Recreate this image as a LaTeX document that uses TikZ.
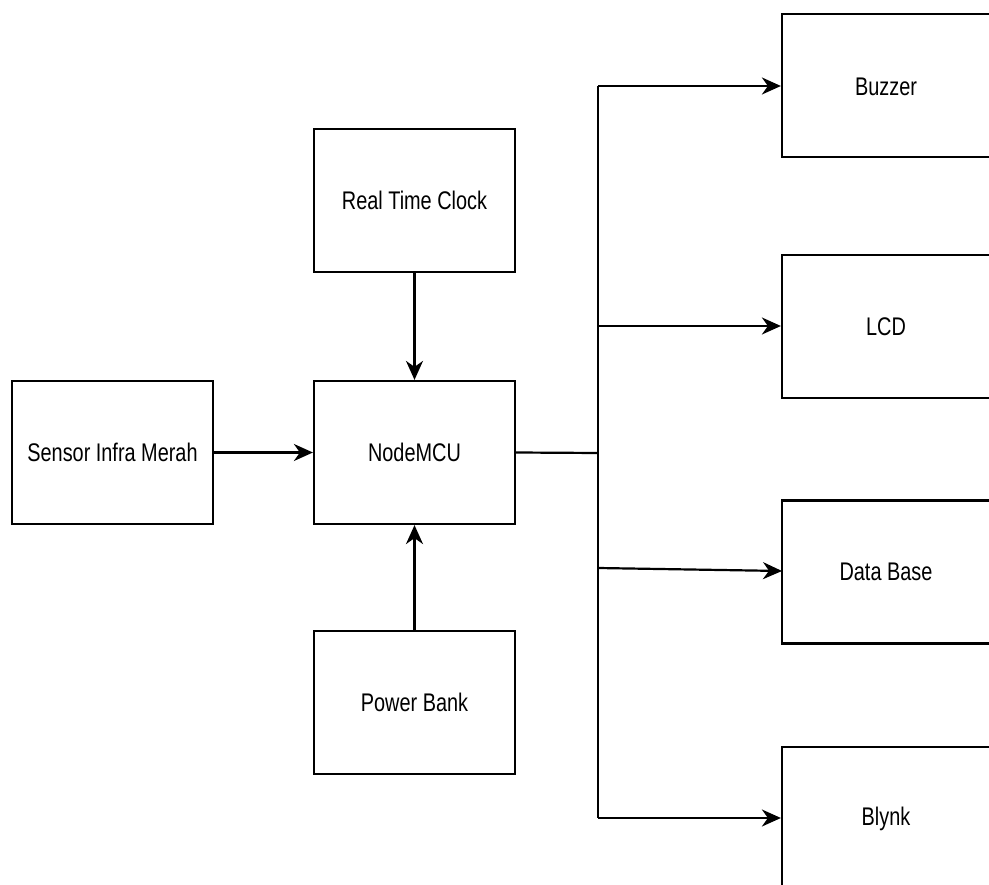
\documentclass[tikz,border=0pt]{standalone}
\usepackage{fontspec}
\setmainfont[FakeStretch=0.78]{Liberation Sans}
\usetikzlibrary{arrows.meta}
\begin{document}
\begin{tikzpicture}[x=1pt,y=-1pt,
  blk/.style={draw, line width=2.2pt, minimum width=201pt, minimum height=143pt, inner sep=0pt, font=\fontsize{25.5}{30}\selectfont},
  rblk/.style={blk, minimum width=212pt},
  lbl/.style={font=\fontsize{25.5}{30}\selectfont},
  conn/.style={line width=2.2pt, -{Stealth[length=19pt,width=17pt,inset=6pt]}},
  trunk/.style={line width=2.2pt}]
\useasboundingbox (0,0) rectangle (989,885);
\clip (0,0) rectangle (989,885);
\node[blk] (sensor) at (112.5,452.5) {Sensor Infra Merah};
\node[blk] (mcu) at (414.5,452.5) {NodeMCU};
\node[blk] (rtc) at (414.5,200.5) {Real Time Clock};
\node[blk] (pb) at (414.5,702.5) {Power Bank};
\node[rblk] (buzzer) at (888,85.5) {};
\node[lbl] (buzzerlbl) at (886,87) {Buzzer};
\node[rblk] (lcd) at (888,326.5) {};
\node[lbl] (lcdlbl) at (886,327) {LCD};
\node[rblk] (db) at (888,572) {};
\node[lbl] (dblbl) at (886,572) {Data Base};
\node[rblk] (blynk) at (888,818.5) {};
\node[lbl] (blynklbl) at (886,819) {Blynk};
\draw[conn] (sensor) -- (mcu);
\draw[conn] (rtc) -- (mcu);
\draw[conn] (pb) -- (mcu);
\coordinate (j) at (598,453);
\coordinate (t1) at (598,86);
\coordinate (t2) at (598,326);
\coordinate (t3) at (598,568);
\coordinate (t4) at (598,818);
\draw[trunk] (mcu.east) -- (j);
\draw[trunk] (t1) -- (t4);
\draw[conn] (t1) -- (buzzer.west |- t1);
\draw[conn] (t2) -- (lcd.west |- t2);
\draw[conn] (t3) -- (782,571);
\draw[conn] (t4) -- (blynk.west |- t4);
\end{tikzpicture}
\end{document}
